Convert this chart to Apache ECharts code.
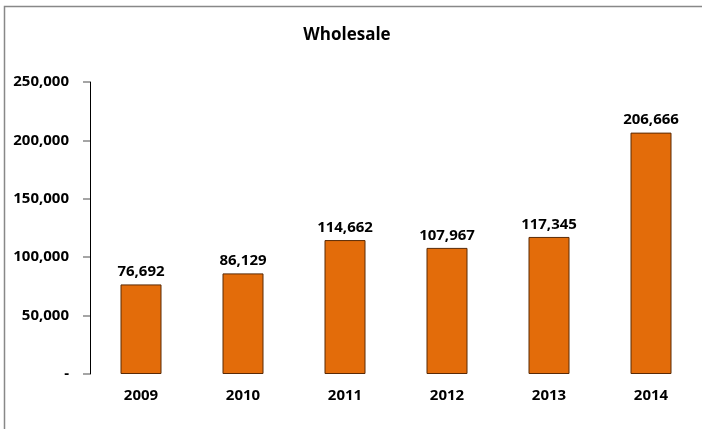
<!DOCTYPE html>
<html>
<head>
<meta charset="utf-8">
<script src="https://cdn.jsdelivr.net/npm/echarts@6/dist/echarts.min.js"></script>
<style>
html,body{margin:0;padding:0;background:#fff;}
#c{width:702px;height:429px;}
</style>
</head>
<body>
<div id="c"></div>
<script>
var categories = ['2009', '2010', '2011', '2012', '2013', '2014'];
var wholesale = [76692, 86129, 114662, 107967, 117345, 206666];
var titleText = 'Wholesale';

function fmt(v) {
  if (v === 0) return '-';
  return String(v).replace(/\B(?=(\d{3})+(?!\d))/g, ',');
}

var chart = echarts.init(document.getElementById('c'));
var font = "'Open Sans', sans-serif";
chart.setOption({
  animation: false,
  backgroundColor: '#fff',
  title: {
    text: titleText,
    left: 342,
    textAlign: 'center',
    top: 22,
    textStyle: { fontFamily: font, fontWeight: 'bold', fontSize: 17, color: '#000' }
  },
  graphic: [{
    type: 'rect',
    shape: { x: 4.5, y: 6.5, width: 900, height: 900 },
    style: { fill: 'none', stroke: '#888', lineWidth: 1.5 },
    silent: true
  }],
  grid: { left: 90, top: 82, width: 613, height: 292 },
  xAxis: {
    type: 'category',
    data: categories,
    axisLine: { show: false },
    axisTick: { show: false },
    axisLabel: { margin: 14, fontFamily: font, fontWeight: 'bold', fontSize: 15, color: '#000' }
  },
  yAxis: {
    type: 'value',
    min: 0,
    max: 250000,
    interval: 50000,
    splitLine: { show: false },
    axisLine: { show: true, lineStyle: { color: '#000', width: 1 } },
    axisTick: { show: true, length: 7, lineStyle: { color: '#888', width: 1.5 } },
    axisLabel: { margin: 21, fontFamily: font, fontWeight: 'bold', fontSize: 15, color: '#000', formatter: fmt }
  },
  series: [{
    type: 'bar',
    data: wholesale,
    barWidth: 41,
    itemStyle: { color: '#E36C0A', borderColor: '#5a2a05', borderWidth: 1 },
    label: {
      show: true,
      position: 'top',
      distance: 5,
      fontFamily: font,
      fontWeight: 'bold',
      fontSize: 15,
      color: '#000',
      formatter: function (p) { return fmt(p.value); }
    }
  }]
});
</script>
</body>
</html>
